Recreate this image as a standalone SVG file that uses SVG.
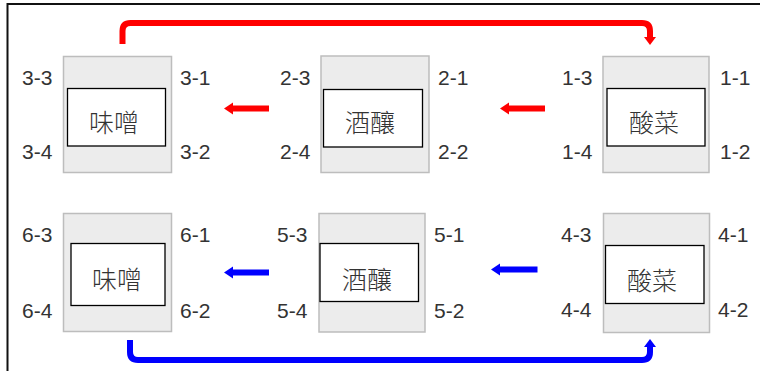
<svg xmlns="http://www.w3.org/2000/svg" width="760" height="371" viewBox="0 0 760 371">
<style>
.frame{fill:none;stroke:#111;stroke-width:2}
.outer{fill:#ececec;stroke:#bdbdbd;stroke-width:1.5}
.inner{fill:#fff;stroke:#000;stroke-width:1.3}
.lbl{font-family:"Liberation Sans",Arial,sans-serif;font-size:21px;fill:#333}
.name{font-family:"Noto Sans CJK TC","Noto Sans CJK JP",sans-serif;font-size:25px;font-weight:300;fill:#333;text-anchor:middle}
.red{stroke:#ff0000;fill:none;stroke-width:6}
.blue{stroke:#0000ff;fill:none;stroke-width:6}
.redh{fill:#ff0000}
.blueh{fill:#0000ff}
</style>
<rect x="0" y="0" width="760" height="371" fill="#fff"/>
<path class="frame" d="M7.5,371 V4 H760"/>

<g id="node-3">
<rect class="outer" x="63.5" y="56.5" width="108" height="116"/>
<rect class="inner" x="67.5" y="88.5" width="98" height="57.5"/>
<text class="name" x="114" y="132">味噌</text>
<text class="lbl" x="22" y="85">3-3</text>
<text class="lbl" x="22" y="159">3-4</text>
<text class="lbl" x="180" y="85">3-1</text>
<text class="lbl" x="180" y="159">3-2</text>
</g>

<g id="node-2">
<rect class="outer" x="321" y="56" width="108" height="116.5"/>
<rect class="inner" x="323.5" y="89.5" width="99" height="57.5"/>
<text class="name" x="370" y="132">酒釀</text>
<text class="lbl" x="280" y="85">2-3</text>
<text class="lbl" x="280" y="159">2-4</text>
<text class="lbl" x="438" y="85">2-1</text>
<text class="lbl" x="438" y="159">2-2</text>
</g>

<g id="node-1">
<rect class="outer" x="603" y="56.5" width="106" height="116"/>
<rect class="inner" x="607" y="88.5" width="98" height="57.5"/>
<text class="name" x="654" y="132">酸菜</text>
<text class="lbl" x="562" y="85">1-3</text>
<text class="lbl" x="562" y="159">1-4</text>
<text class="lbl" x="720" y="85">1-1</text>
<text class="lbl" x="720" y="159">1-2</text>
</g>

<g id="node-6">
<rect class="outer" x="63.5" y="213.5" width="108" height="118"/>
<rect class="inner" x="71" y="243.5" width="94" height="62"/>
<text class="name" x="117" y="289">味噌</text>
<text class="lbl" x="22" y="242">6-3</text>
<text class="lbl" x="22" y="318">6-4</text>
<text class="lbl" x="180" y="242">6-1</text>
<text class="lbl" x="180" y="318">6-2</text>
</g>

<g id="node-5">
<rect class="outer" x="319" y="213.5" width="106" height="118.5"/>
<rect class="inner" x="320" y="243.5" width="98.5" height="58"/>
<text class="name" x="367" y="289">酒釀</text>
<text class="lbl" x="277" y="242">5-3</text>
<text class="lbl" x="277" y="318">5-4</text>
<text class="lbl" x="434" y="242">5-1</text>
<text class="lbl" x="434" y="318">5-2</text>
</g>

<g id="node-4">
<rect class="outer" x="603.5" y="213.5" width="106" height="119"/>
<rect class="inner" x="605.5" y="245.5" width="98.5" height="58"/>
<text class="name" x="652" y="290">酸菜</text>
<text class="lbl" x="561" y="242">4-3</text>
<text class="lbl" x="561" y="317">4-4</text>
<text class="lbl" x="718" y="242">4-1</text>
<text class="lbl" x="718" y="317">4-2</text>
</g>

<g id="connectors">
<path class="red" d="M122.5,44 V31 Q122.5,23 130.5,23 H642 Q650,23 650,31 V38"/>
<polygon class="redh" points="644,37 656,37 650,45"/>
<path class="red" d="M269,108.5 H231"/>
<polygon class="redh" points="233,102.5 233,114.5 224,108.5"/>
<path class="red" d="M545,108.5 H507"/>
<polygon class="redh" points="509,102.5 509,114.5 500,108.5"/>

<path class="blue" d="M130,340 V352 Q130,360 138,360 H642 Q650,360 650,352 V346"/>
<polygon class="blueh" points="644,347 656,347 650,339"/>
<path class="blue" d="M269,272.5 H231"/>
<polygon class="blueh" points="233,266.5 233,278.5 224,272.5"/>
<path class="blue" d="M537.5,269.5 H498"/>
<polygon class="blueh" points="500,263.5 500,275.5 491,269.5"/>
</g>
</svg>
